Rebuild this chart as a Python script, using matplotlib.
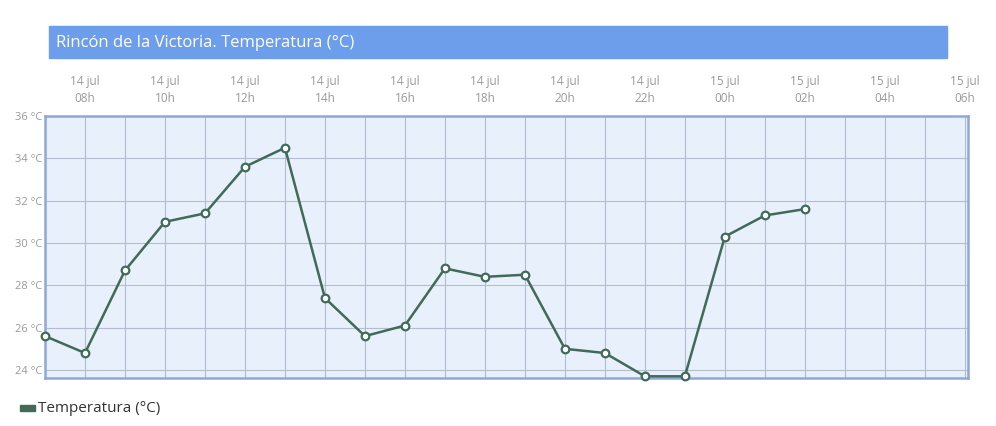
import numpy as np
import matplotlib.pyplot as plt
from matplotlib.patches import Rectangle
plt.rcParams["font.family"] = ["Open Sans", "DejaVu Sans"]

# hourly temperatures, 14 jul 07h -> 15 jul 02h
hours = list(range(20))
temps = [25.6, 24.8, 28.7, 31.0, 31.4, 33.6, 34.5, 27.4, 25.6, 26.1,
         28.8, 28.4, 28.5, 25.0, 24.8, 23.7, 23.7, 30.3, 31.3, 31.6]
tick_pos = list(range(1, 24, 2))
tick_labels = ["14 jul\n08h", "14 jul\n10h", "14 jul\n12h", "14 jul\n14h", "14 jul\n16h",
               "14 jul\n18h", "14 jul\n20h", "14 jul\n22h", "15 jul\n00h", "15 jul\n02h",
               "15 jul\n04h", "15 jul\n06h"]
y_ticks = [24, 26, 28, 30, 32, 34, 36]

W, H = 996, 426
fig = plt.figure(figsize=(W / 100, H / 100), dpi=100)

# title bar
fig.patches.append(Rectangle((49 / W, 1 - 58 / H), (947 - 49) / W, 32 / H,
                             transform=fig.transFigure, color="#6d9eeb", zorder=0))
fig.text(56 / W, 1 - 43 / H, "Rincón de la Victoria. Temperatura (°C)",
         color="white", fontsize=12, va="center", ha="left")

ax = fig.add_axes([45 / W, 1 - 378 / H, (968 - 45) / W, (378 - 116) / H])
ax.set_facecolor("#e8f0fc")
ax.plot(hours, temps, color="#416b58", lw=1.8, marker="o", ms=5.5,
        mfc="white", mec="#416b58", mew=1.6, zorder=3, clip_on=False)

ax.set_xlim(0, 23.08)
ax.set_ylim(23.62, 36)
ax.set_xticks(range(0, 24), minor=True)
ax.set_xticks(tick_pos)
ax.set_xticklabels(tick_labels, color="#999999", fontsize=8.5, linespacing=1.4)
ax.set_yticks(y_ticks)
ax.set_yticklabels([f"{v} °C" for v in y_ticks], color="#999999", fontsize=8)
ax.xaxis.tick_top()
ax.tick_params(axis="x", length=0, pad=8)
ax.tick_params(axis="x", which="minor", length=0)
ax.tick_params(axis="y", length=0, pad=2)
ax.grid(True, which="both", axis="x", color="#b4bcd0", lw=0.8)
ax.grid(True, axis="y", color="#b4bcd0", lw=0.8)
ax.set_axisbelow(True)
for s in ax.spines.values():
    s.set_color("#8ea9d9")
    s.set_linewidth(1.8)

# legend
fig.patches.append(Rectangle((20 / W, 1 - 411 / H), 15 / W, 6 / H,
                             transform=fig.transFigure, color="#416b58"))
fig.text(38 / W, 1 - 408 / H, "Temperatura (°C)", color="#333333",
         fontsize=11, va="center", ha="left")

fig.savefig("out.png", dpi=100)
